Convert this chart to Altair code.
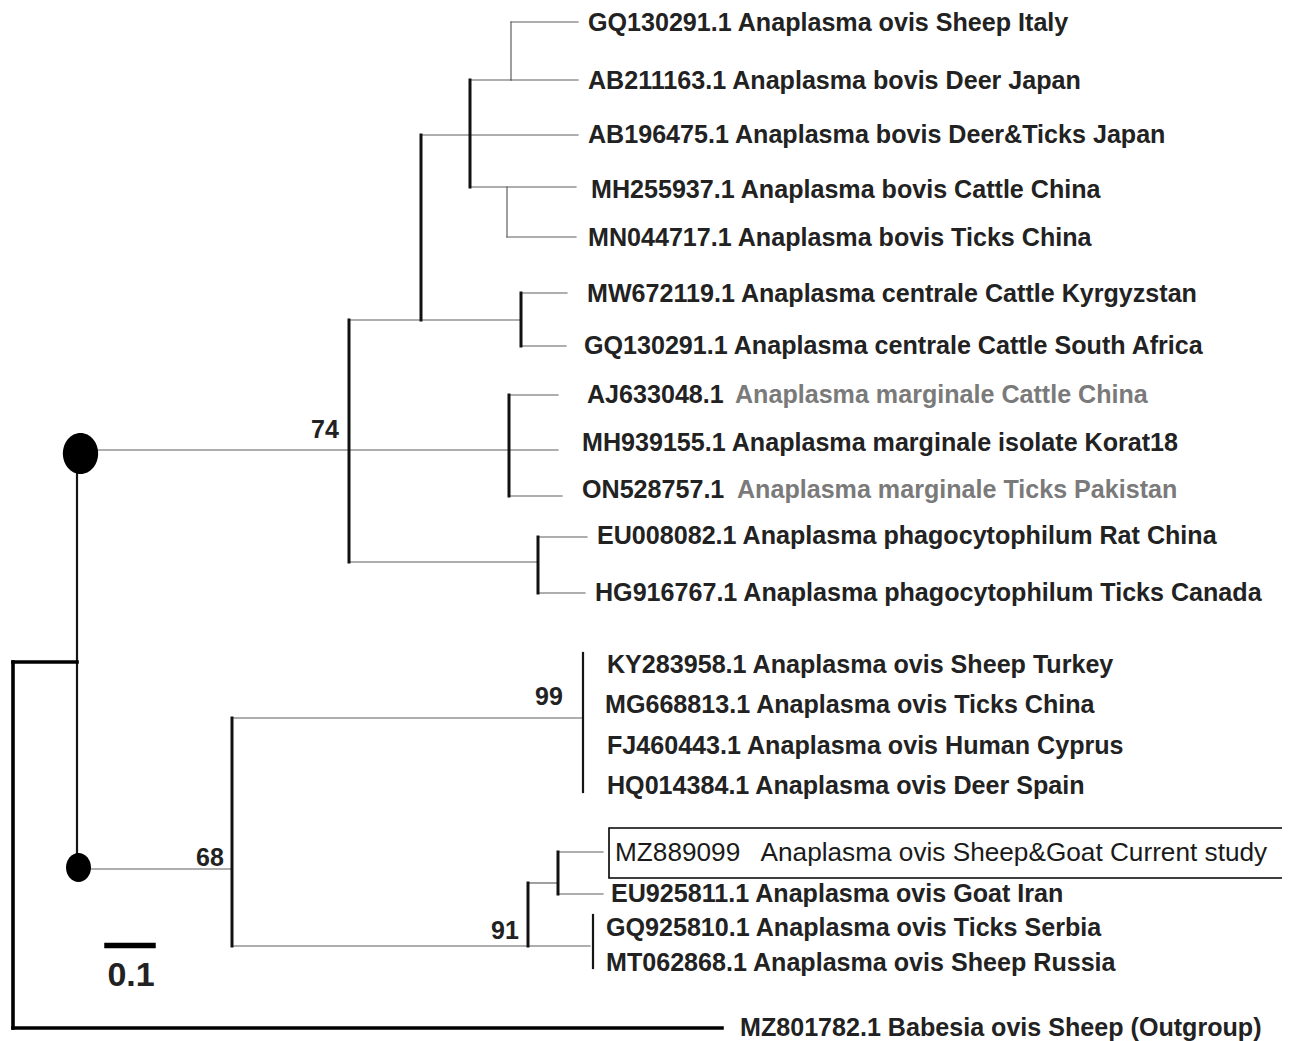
import altair as alt
import pandas as pd

# ---- tree branches (image-space node coordinates) ----
seg_x1 = [13, 13, 13, 77,
          80, 349, 349, 421, 421, 470, 470, 511, 511, 511, 470, 507, 507,
          521, 521, 521, 509, 509, 509, 349, 538, 538, 538,
          80, 232, 232, 583, 232, 528, 528, 558, 558, 558, 593,
          107]
seg_y1 = [662, 662, 1028, 452,
          450, 320, 320, 135, 135, 80, 80, 22, 22, 80, 187, 187, 237,
          293, 293, 346, 395, 395, 496, 562, 537, 537, 593,
          869, 718, 718, 653, 946, 883, 883, 852, 852, 894, 915,
          945.5]
seg_x2 = [13, 77, 722, 77,
          558, 349, 521, 421, 578, 470, 511, 511, 578, 578, 576, 507, 576,
          521, 567, 566, 509, 558, 562, 538, 538, 587, 585,
          232, 232, 583, 583, 590, 528, 558, 558, 603, 603, 593,
          153]
seg_y2 = [1028, 662, 1028, 868,
          450, 562, 320, 320, 135, 187, 80, 80, 22, 80, 187, 237, 237,
          346, 293, 346, 496, 395, 496, 562, 593, 537, 593,
          869, 946, 718, 792, 946, 946, 883, 894, 852, 894, 968,
          945.5]
seg_kind = ["root", "root", "root", "mid",
            "thin", "thick", "thin", "thick", "thin", "thick", "thin", "thin", "thin", "thin", "thin", "thin", "thin",
            "thick", "thin", "thin", "thick", "thin", "thin", "thin", "thick", "thin", "thin",
            "thin", "thick", "thin", "mid", "thin", "thick", "thin", "thick", "thin", "thin", "mid",
            "bar"]

# ---- leaf labels ----
leaf_text = [
    "GQ130291.1 Anaplasma ovis Sheep Italy",
    "AB211163.1 Anaplasma bovis Deer Japan",
    "AB196475.1 Anaplasma bovis Deer&Ticks Japan",
    "MH255937.1 Anaplasma bovis Cattle China",
    "MN044717.1 Anaplasma bovis Ticks China",
    "MW672119.1 Anaplasma centrale Cattle Kyrgyzstan",
    "GQ130291.1 Anaplasma centrale Cattle South Africa",
    "AJ633048.1",
    "Anaplasma marginale Cattle China",
    "MH939155.1 Anaplasma marginale isolate Korat18",
    "ON528757.1",
    "Anaplasma marginale Ticks Pakistan",
    "EU008082.1 Anaplasma phagocytophilum Rat China",
    "HG916767.1 Anaplasma phagocytophilum Ticks Canada",
    "KY283958.1 Anaplasma ovis Sheep Turkey",
    "MG668813.1 Anaplasma ovis Ticks China",
    "FJ460443.1 Anaplasma ovis Human Cyprus",
    "HQ014384.1 Anaplasma ovis Deer Spain",
    "MZ889099\u00a0\u00a0 Anaplasma ovis Sheep&Goat Current study",
    "EU925811.1 Anaplasma ovis Goat Iran",
    "GQ925810.1 Anaplasma ovis Ticks Serbia",
    "MT062868.1 Anaplasma ovis Sheep Russia",
    "MZ801782.1 Babesia ovis Sheep (Outgroup)",
]
leaf_x = [588, 588, 588, 591, 588, 587, 584, 587, 735, 582, 582, 737, 597, 595,
          607, 605, 607, 607, 615, 611, 606, 606, 740]
leaf_y = [23, 81, 135, 190, 238, 294, 346, 395, 395, 443, 490, 490, 536, 593,
          665, 705, 746, 786, 853, 894, 928, 963, 1028]
leaf_tone = ["dark"] * 8 + ["gray", "dark", "dark", "gray"] + ["dark"] * 6 + ["plain"] + ["dark"] * 4

# ---- bootstrap values ----
boot_text = ["74", "99", "68", "91"]
boot_x = [325, 549, 210, 505]
boot_y = [430, 697, 858, 931]

# ---- scale bar label ----
bar_text = ["0.1"]
bar_x = [131]
bar_y = [976]

# ---- node markers ----
node_x = [80.5, 78.5]
node_y = [453.5, 867.5]
node_h = [41, 29]

# ---- highlight box ----
box_x1, box_y1, box_x2, box_y2 = [609], [828], [1289], [878]

W, H = 1274, 1033
xs = alt.Scale(domain=[8, 8 + W])
ys = alt.Scale(domain=[8, 8 + H], reverse=True)

segs = pd.DataFrame(dict(x1=seg_x1, y1=seg_y1, x2=seg_x2, y2=seg_y2, kind=seg_kind))
leaves = pd.DataFrame(dict(x=leaf_x, y=leaf_y, text=leaf_text, tone=leaf_tone))
boots = pd.DataFrame(dict(x=boot_x, y=boot_y, text=boot_text))
bars = pd.DataFrame(dict(x=bar_x, y=bar_y, text=bar_text))
nodes = pd.DataFrame(dict(x=node_x, y=node_y, s=[h * h for h in node_h]))
box = pd.DataFrame(dict(x1=box_x1, y1=box_y1, x2=box_x2, y2=box_y2))

styles = {
    "thin": (1.2, "#5e5e5e"),
    "mid": (2.2, "#151515"),
    "thick": (3.0, "#111111"),
    "root": (3.6, "#000000"),
    "bar": (5.5, "#000000"),
}
branch_layers = []
for k, (sw, col) in styles.items():
    branch_layers.append(
        alt.Chart(segs).transform_filter(alt.datum.kind == k).mark_rule(
            strokeCap="square", strokeWidth=sw, color=col
        ).encode(
            x=alt.X("x1:Q", scale=xs, axis=None),
            y=alt.Y("y1:Q", scale=ys, axis=None),
            x2="x2:Q",
            y2="y2:Q",
        )
    )

ellipse = "M -0.86,0 A 0.86,1 0 1,1 0.86,0 A 0.86,1 0 1,1 -0.86,0 Z"
node_marks = alt.Chart(nodes).mark_point(shape=ellipse, filled=True, color="#000000", opacity=1).encode(
    x=alt.X("x:Q", scale=xs, axis=None),
    y=alt.Y("y:Q", scale=ys, axis=None),
    size=alt.Size("s:Q", scale=None, legend=None),
)

box_mark = alt.Chart(box).mark_rect(fill=None, stroke="#000000", strokeWidth=1.6).encode(
    x=alt.X("x1:Q", scale=xs, axis=None),
    y=alt.Y("y1:Q", scale=ys, axis=None),
    x2="x2:Q",
    y2="y2:Q",
)

bold_leaves = alt.Chart(leaves).transform_filter(alt.datum.tone != "plain").mark_text(
    align="left", baseline="middle", font="Liberation Sans", fontSize=25.1, fontWeight="bold"
).encode(
    x=alt.X("x:Q", scale=xs, axis=None),
    y=alt.Y("y:Q", scale=ys, axis=None),
    text="text:N",
    color=alt.Color("tone:N", scale=alt.Scale(domain=["dark", "gray"], range=["#222222", "#7a7a7a"]), legend=None),
)

plain_leaves = alt.Chart(leaves).transform_filter(alt.datum.tone == "plain").mark_text(
    align="left", baseline="middle", font="Liberation Sans", fontSize=26.2, color="#1a1a1a"
).encode(
    x=alt.X("x:Q", scale=xs, axis=None),
    y=alt.Y("y:Q", scale=ys, axis=None),
    text="text:N",
)

boot_marks = alt.Chart(boots).mark_text(align="center", baseline="middle", font="Liberation Sans", fontSize=25, fontWeight="bold", color="#222222").encode(
    x=alt.X("x:Q", scale=xs, axis=None),
    y=alt.Y("y:Q", scale=ys, axis=None),
    text="text:N",
)

bar_marks = alt.Chart(bars).mark_text(align="center", baseline="middle", font="Liberation Sans", fontSize=34, fontWeight="bold", color="#222222").encode(
    x=alt.X("x:Q", scale=xs, axis=None),
    y=alt.Y("y:Q", scale=ys, axis=None),
    text="text:N",
)

chart = alt.layer(*branch_layers, box_mark, node_marks, bold_leaves, plain_leaves, boot_marks, bar_marks).properties(
    width=W, height=H, padding=0, autosize=alt.AutoSizeParams(type="none"),
    background="#ffffff",
).configure_view(stroke=None)

chart.save("out.html", embed_options={"renderer": "svg", "actions": False})
